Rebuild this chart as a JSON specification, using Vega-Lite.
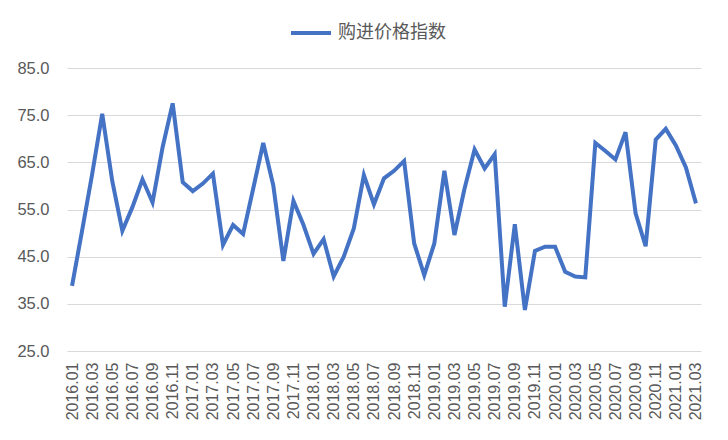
{
  "$schema": "https://vega.github.io/schema/vega-lite/v6.json",
  "width": 634,
  "height": 283,
  "autosize": {"type": "none"},
  "padding": {"left": 67, "top": 68, "right": 27, "bottom": 89},
  "background": "white",
  "data": {
    "values": [
      {"month": "2016.01", "value": 38.8, "series": "购进价格指数"},
      {"month": "2016.02", "value": 50.5, "series": "购进价格指数"},
      {"month": "2016.03", "value": 62.5, "series": "购进价格指数"},
      {"month": "2016.04", "value": 75.3, "series": "购进价格指数"},
      {"month": "2016.05", "value": 61.0, "series": "购进价格指数"},
      {"month": "2016.06", "value": 50.5, "series": "购进价格指数"},
      {"month": "2016.07", "value": 55.5, "series": "购进价格指数"},
      {"month": "2016.08", "value": 61.4, "series": "购进价格指数"},
      {"month": "2016.09", "value": 56.5, "series": "购进价格指数"},
      {"month": "2016.10", "value": 68.2, "series": "购进价格指数"},
      {"month": "2016.11", "value": 77.5, "series": "购进价格指数"},
      {"month": "2016.12", "value": 60.8, "series": "购进价格指数"},
      {"month": "2017.01", "value": 58.9, "series": "购进价格指数"},
      {"month": "2017.02", "value": 60.5, "series": "购进价格指数"},
      {"month": "2017.03", "value": 62.6, "series": "购进价格指数"},
      {"month": "2017.04", "value": 47.5, "series": "购进价格指数"},
      {"month": "2017.05", "value": 51.7, "series": "购进价格指数"},
      {"month": "2017.06", "value": 49.8, "series": "购进价格指数"},
      {"month": "2017.07", "value": 59.4, "series": "购进价格指数"},
      {"month": "2017.08", "value": 69.1, "series": "购进价格指数"},
      {"month": "2017.09", "value": 60.1, "series": "购进价格指数"},
      {"month": "2017.10", "value": 44.1, "series": "购进价格指数"},
      {"month": "2017.11", "value": 56.8, "series": "购进价格指数"},
      {"month": "2017.12", "value": 51.7, "series": "购进价格指数"},
      {"month": "2018.01", "value": 45.6, "series": "购进价格指数"},
      {"month": "2018.02", "value": 48.7, "series": "购进价格指数"},
      {"month": "2018.03", "value": 40.8, "series": "购进价格指数"},
      {"month": "2018.04", "value": 45.0, "series": "购进价格指数"},
      {"month": "2018.05", "value": 51.0, "series": "购进价格指数"},
      {"month": "2018.06", "value": 62.3, "series": "购进价格指数"},
      {"month": "2018.07", "value": 56.1, "series": "购进价格指数"},
      {"month": "2018.08", "value": 61.6, "series": "购进价格指数"},
      {"month": "2018.09", "value": 63.2, "series": "购进价格指数"},
      {"month": "2018.10", "value": 65.3, "series": "购进价格指数"},
      {"month": "2018.11", "value": 47.8, "series": "购进价格指数"},
      {"month": "2018.12", "value": 41.1, "series": "购进价格指数"},
      {"month": "2019.01", "value": 47.8, "series": "购进价格指数"},
      {"month": "2019.02", "value": 63.2, "series": "购进价格指数"},
      {"month": "2019.03", "value": 49.6, "series": "购进价格指数"},
      {"month": "2019.04", "value": 59.4, "series": "购进价格指数"},
      {"month": "2019.05", "value": 67.7, "series": "购进价格指数"},
      {"month": "2019.06", "value": 63.7, "series": "购进价格指数"},
      {"month": "2019.07", "value": 66.7, "series": "购进价格指数"},
      {"month": "2019.08", "value": 34.4, "series": "购进价格指数"},
      {"month": "2019.09", "value": 51.9, "series": "购进价格指数"},
      {"month": "2019.10", "value": 33.7, "series": "购进价格指数"},
      {"month": "2019.11", "value": 46.2, "series": "购进价格指数"},
      {"month": "2019.12", "value": 47.1, "series": "购进价格指数"},
      {"month": "2020.01", "value": 47.1, "series": "购进价格指数"},
      {"month": "2020.02", "value": 41.8, "series": "购进价格指数"},
      {"month": "2020.03", "value": 40.8, "series": "购进价格指数"},
      {"month": "2020.04", "value": 40.6, "series": "购进价格指数"},
      {"month": "2020.05", "value": 69.1, "series": "购进价格指数"},
      {"month": "2020.06", "value": 67.4, "series": "购进价格指数"},
      {"month": "2020.07", "value": 65.6, "series": "购进价格指数"},
      {"month": "2020.08", "value": 71.4, "series": "购进价格指数"},
      {"month": "2020.09", "value": 54.2, "series": "购进价格指数"},
      {"month": "2020.10", "value": 47.2, "series": "购进价格指数"},
      {"month": "2020.11", "value": 69.8, "series": "购进价格指数"},
      {"month": "2020.12", "value": 72.1, "series": "购进价格指数"},
      {"month": "2021.01", "value": 68.6, "series": "购进价格指数"},
      {"month": "2021.02", "value": 63.9, "series": "购进价格指数"},
      {"month": "2021.03", "value": 56.3, "series": "购进价格指数"}
    ]
  },
  "mark": {"type": "line", "strokeWidth": 4, "strokeJoin": "miter", "strokeCap": "butt"},
  "encoding": {
    "x": {
      "field": "month",
      "type": "ordinal",
      "sort": null,
      "scale": {"type": "point", "padding": 0.5},
      "axis": {
        "title": null,
        "values": ["2016.01", "2016.03", "2016.05", "2016.07", "2016.09", "2016.11",
                   "2017.01", "2017.03", "2017.05", "2017.07", "2017.09", "2017.11",
                   "2018.01", "2018.03", "2018.05", "2018.07", "2018.09", "2018.11",
                   "2019.01", "2019.03", "2019.05", "2019.07", "2019.09", "2019.11",
                   "2020.01", "2020.03", "2020.05", "2020.07", "2020.09", "2020.11",
                   "2021.01", "2021.03"],
        "labelAngle": -90,
        "labelPadding": 11,
        "labelFontSize": 16,
        "labelColor": "#595959",
        "labelFont": "Liberation Sans",
        "domain": false,
        "ticks": false,
        "grid": false
      }
    },
    "y": {
      "field": "value",
      "type": "quantitative",
      "scale": {"domain": [25, 85], "nice": false, "zero": false},
      "axis": {
        "title": null,
        "values": [25, 35, 45, 55, 65, 75, 85],
        "format": ".1f",
        "labelFontSize": 16.5,
        "labelColor": "#595959",
        "labelFont": "Liberation Sans",
        "labelPadding": 18,
        "domain": false,
        "ticks": false,
        "grid": true,
        "gridColor": "#d9d9d9",
        "gridWidth": 1
      }
    },
    "color": {
      "field": "series",
      "type": "nominal",
      "scale": {"range": ["#4472C4"]},
      "legend": {
        "title": null,
        "orient": "none",
        "legendX": 222,
        "legendY": -57,
        "symbolType": "stroke",
        "symbolSize": 1600,
        "symbolStrokeWidth": 4,
        "labelFontSize": 18,
        "labelColor": "#595959",
        "labelFont": "Noto Sans CJK SC",
        "labelOffset": 5
      }
    }
  },
  "config": {
    "view": {"stroke": null}
  }
}
